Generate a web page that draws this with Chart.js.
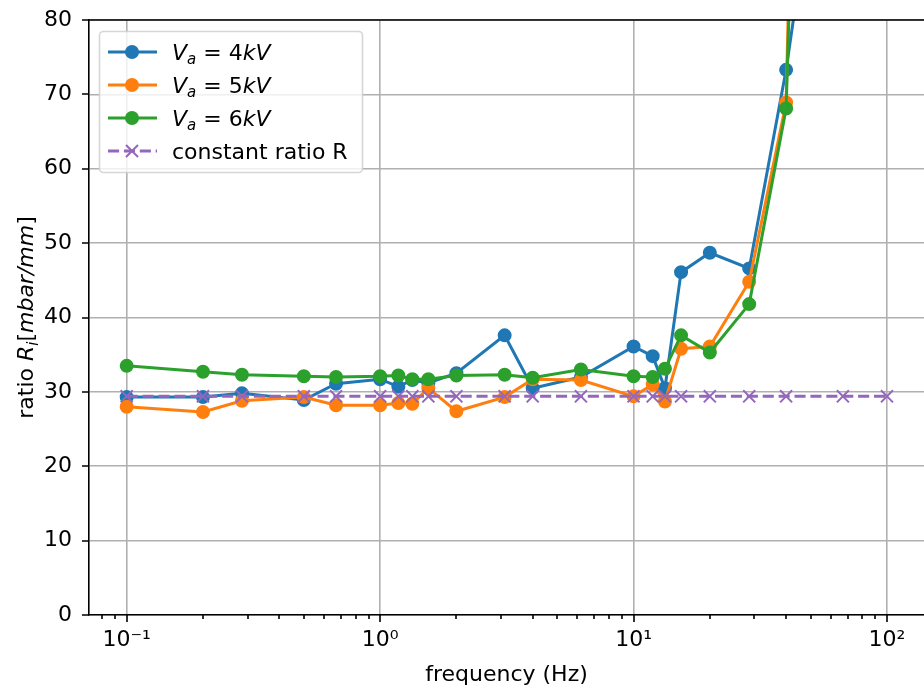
<!DOCTYPE html>
<html>
<head>
<meta charset="utf-8">
<script src="https://cdn.jsdelivr.net/npm/chart.js@4/dist/chart.umd.min.js"></script>
<style>
  body { margin: 0; background: #fff; }
  #wrap { width: 924px; height: 690px; overflow: hidden; }
</style>
</head>
<body>
<div id="wrap"><canvas id="myChart" width="924" height="690"></canvas></div>
<script>
// measured frequencies (Hz)
const freq = [0.1, 0.2, 0.285, 0.5, 0.67, 1.0, 1.18, 1.34, 1.55, 2.0, 3.1, 4.0, 6.2,
              10, 11.9, 13.3, 15.4, 20, 28.6, 40, 67];
const ratio4kV = [29.3, 29.3, 29.8, 28.9, 31.1, 31.7, 30.7, 31.6, 31.2, 32.5, 37.6, 30.5, 32.0,
                  36.1, 34.8, 30.5, 46.1, 48.7, 46.6, 73.3, 126];
const ratio5kV = [28.0, 27.3, 28.8, 29.3, 28.2, 28.2, 28.5, 28.4, 30.5, 27.4, 29.3, 31.7, 31.6,
                  29.4, 31.0, 28.7, 35.8, 36.1, 44.8, 68.9, 400];
const ratio6kV = [33.5, 32.7, 32.3, 32.1, 32.0, 32.1, 32.2, 31.7, 31.7, 32.2, 32.3, 31.9, 33.0,
                  32.1, 32.0, 33.1, 37.6, 35.3, 41.8, 68.1, 320];
const constFreq = [0.1, 0.2, 0.285, 0.5, 0.67, 1.0, 1.18, 1.34, 1.55, 2.0, 3.1, 4.0, 6.2,
                   10, 11.9, 13.3, 15.4, 20, 28.6, 40, 67, 100];
const constRatio = 29.4;

const decadeTicks = [0.1, 1, 10, 100];
const decadeLabels = ['10⁻¹', '10⁰', '10¹', '10²'];

const FONT = '"DejaVu Sans"';
const FS = 22;
Chart.defaults.font.family = FONT;
Chart.defaults.font.size = FS;
Chart.defaults.color = '#000';

function isDecade(v) {
  const l = Math.log10(v);
  return Math.abs(l - Math.round(l)) < 1e-6;
}
function pts(xs, ys) {
  return xs.map((x, i) => ({ x: x, y: ys[i] }));
}

// minor + major tick positions from 0.08 to 100
const xTickValues = [0.08, 0.09];
for (let e = -1; e <= 1; e++) {
  for (let s = 1; s <= 9; s++) xTickValues.push(+(s * Math.pow(10, e)).toPrecision(3));
}
xTickValues.push(100);

const BLUE = '#1f77b4', ORANGE = '#ff7f0e', GREEN = '#2ca02c', PURPLE = '#9467bd';

function series(label, ys, color, order) {
  return {
    label: label,
    data: pts(freq, ys),
    borderColor: color,
    backgroundColor: color,
    borderWidth: 3,
    pointRadius: 6,
    pointBorderWidth: 2,
    pointBackgroundColor: color,
    pointBorderColor: color,
    order: order,
    clip: 0
  };
}

function partFont(p) {
  return (p.it ? 'italic ' : '') + (p.sub ? Math.round(FS * 0.7) : FS) + 'px ' + FONT;
}
function drawRich(ctx, parts, x, y) {
  let cx = x;
  parts.forEach(p => {
    ctx.font = partFont(p);
    ctx.fillText(p.t, cx, y + (p.sub ? 4.5 : 0));
    cx += ctx.measureText(p.t).width;
  });
  return cx - x;
}
function richWidth(ctx, parts) {
  let w = 0;
  parts.forEach(p => { ctx.font = partFont(p); w += ctx.measureText(p.t).width; });
  return w;
}

const legendRows = [
  { color: BLUE,   parts: [{t:'V',it:1},{t:'a',it:1,sub:1},{t:' = 4'},{t:'kV',it:1}] },
  { color: ORANGE, parts: [{t:'V',it:1},{t:'a',it:1,sub:1},{t:' = 5'},{t:'kV',it:1}] },
  { color: GREEN,  parts: [{t:'V',it:1},{t:'a',it:1,sub:1},{t:' = 6'},{t:'kV',it:1}] },
  { color: PURPLE, dashed: true, parts: [{t:'constant ratio R'}] }
];

const decorations = {
  id: 'decorations',
  // the axes run to the right edge of the picture
  afterLayout(chart) {
    const x = chart.scales.x;
    const a = chart.chartArea;
    a.right = 924;
    a.width = a.right - a.left;
    x.right = 924;
    x.width = x.right - x.left;
    x.configure();
  },
  afterDraw(chart) {
    const { ctx, chartArea: a, scales: { x, y } } = chart;
    ctx.save();
    ctx.strokeStyle = '#000';
    ctx.lineWidth = 1.6;
    ctx.beginPath();
    ctx.moveTo(a.left, a.top); ctx.lineTo(a.right, a.top);
    // x ticks
    x.ticks.forEach(t => {
      const px = Math.round(x.getPixelForValue(t.value));
      const len = isDecade(t.value) ? 7 : 4;
      ctx.moveTo(px, a.bottom); ctx.lineTo(px, a.bottom + len);
    });
    // y ticks
    y.ticks.forEach(t => {
      const py = Math.round(y.getPixelForValue(t.value));
      ctx.moveTo(a.left - 7, py); ctx.lineTo(a.left, py);
    });
    ctx.stroke();

    ctx.fillStyle = '#000';
    ctx.textBaseline = 'alphabetic';
    // x title
    ctx.font = FS + 'px ' + FONT;
    ctx.textAlign = 'center';
    ctx.fillText('frequency (Hz)', (a.left + a.right) / 2, 681);
    // y title
    ctx.textAlign = 'left';
    const yParts = [{t:'ratio '},{t:'R',it:1},{t:'i',it:1,sub:1},{t:'['},{t:'mbar/mm',it:1},{t:']'}];
    const w = richWidth(ctx, yParts);
    ctx.save();
    ctx.translate(33, (a.top + a.bottom) / 2);
    ctx.rotate(-Math.PI / 2);
    drawRich(ctx, yParts, -w / 2, 0);
    ctx.restore();

    // legend
    const bx = 99.5, by = 31.5, bw = 263, bh = 141, r = 4;
    ctx.beginPath();
    ctx.moveTo(bx + r, by);
    ctx.arcTo(bx + bw, by, bx + bw, by + bh, r);
    ctx.arcTo(bx + bw, by + bh, bx, by + bh, r);
    ctx.arcTo(bx, by + bh, bx, by, r);
    ctx.arcTo(bx, by, bx + bw, by, r);
    ctx.closePath();
    ctx.fillStyle = 'rgba(255,255,255,0.8)';
    ctx.fill();
    ctx.strokeStyle = 'rgba(204,204,204,0.8)';
    ctx.lineWidth = 1.6;
    ctx.stroke();

    legendRows.forEach((row, i) => {
      const cy = 52 + i * 33;
      ctx.strokeStyle = row.color;
      ctx.fillStyle = row.color;
      ctx.lineWidth = 3;
      ctx.setLineDash(row.dashed ? [11.1, 4.8] : []);
      ctx.beginPath();
      ctx.moveTo(108, cy); ctx.lineTo(157, cy);
      ctx.stroke();
      ctx.setLineDash([]);
      if (row.dashed) {
        ctx.lineWidth = 2;
        ctx.beginPath();
        ctx.moveTo(126, cy - 6); ctx.lineTo(138, cy + 6);
        ctx.moveTo(126, cy + 6); ctx.lineTo(138, cy - 6);
        ctx.stroke();
      } else {
        ctx.beginPath();
        ctx.arc(132, cy, 7, 0, Math.PI * 2);
        ctx.fill();
      }
      ctx.fillStyle = '#000';
      drawRich(ctx, row.parts, 172, cy + 7.5);
    });
    ctx.restore();
  }
};

new Chart(document.getElementById('myChart'), {
  type: 'line',
  data: {
    datasets: [
      series('Va = 4kV', ratio4kV, BLUE, 3),
      series('Va = 5kV', ratio5kV, ORANGE, 2),
      series('Va = 6kV', ratio6kV, GREEN, 1),
      {
        label: 'constant ratio R',
        data: constFreq.map(f => ({ x: f, y: constRatio })),
        borderColor: PURPLE,
        backgroundColor: PURPLE,
        borderWidth: 3,
        borderDash: [11.1, 4.8],
        pointStyle: 'crossRot',
        pointRadius: 8.5,
        pointBorderWidth: 2,
        pointBorderColor: PURPLE,
        order: 0,
        clip: 0
      }
    ]
  },
  options: {
    responsive: false,
    animation: false,
    devicePixelRatio: 1,
    layout: { padding: { top: 20, left: 0, right: 0, bottom: 0 } },
    plugins: { legend: { display: false }, tooltip: { enabled: false }, title: { display: false } },
    scales: {
      x: {
        type: 'logarithmic',
        min: 0.071,
        max: 140,
        afterBuildTicks: scale => { scale.ticks = xTickValues.map(v => ({ value: v })); },
        afterFit: scale => { scale.height = 75; scale.paddingLeft = 0; scale.paddingRight = 0; },
        ticks: {
          autoSkip: false,
          maxRotation: 0,
          padding: 12,
          color: '#000',
          font: { size: FS },
          callback: v => { const i = decadeTicks.findIndex(d => Math.abs(d - v) < 1e-9); return i >= 0 ? decadeLabels[i] : ''; }
        },
        grid: {
          drawTicks: false,
          lineWidth: 1.6,
          color: c => (c.tick && isDecade(c.tick.value)) ? '#b0b0b0' : 'rgba(0,0,0,0)'
        },
        border: { display: true, color: '#000', width: 1.6 }
      },
      y: {
        min: 0,
        max: 80,
        afterFit: scale => { scale.width = 89; scale.paddingTop = 0; scale.paddingBottom = 0; },
        ticks: { stepSize: 10, padding: 17, color: '#000', font: { size: FS } },
        grid: { drawTicks: false, lineWidth: 1.6, color: '#b0b0b0' },
        border: { display: true, color: '#000', width: 1.6 }
      }
    }
  },
  plugins: [decorations]
});
</script>
</body>
</html>
